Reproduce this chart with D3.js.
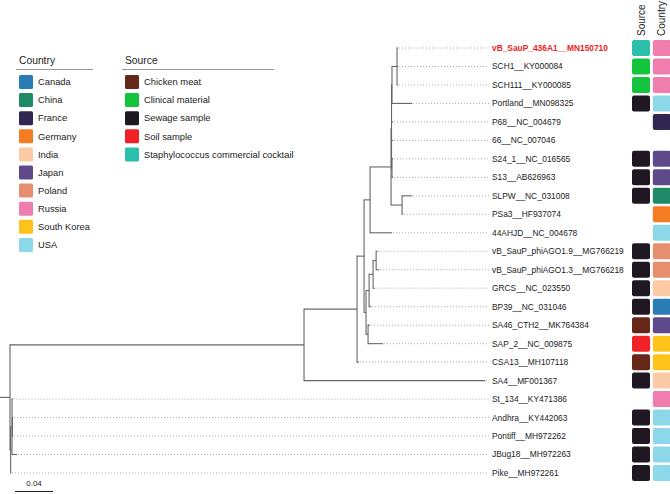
<!DOCTYPE html>
<html>
<head>
<meta charset="utf-8">
<script src="https://cdn.jsdelivr.net/npm/d3@7"></script>
<style>
  html, body { margin: 0; padding: 0; background: #fff; }
  svg { display: block; font-family: "Liberation Sans", Arial, Helvetica, sans-serif; }
</style>
</head>
<body>
<svg id="chart" width="670" height="494"></svg>
<script>
// ---- Tree data: [parent, child, branch length] (children listed in drawing order)
const edges = [
  ["root", "B", 0.3095], ["root", "L", 0.0007],
  ["B", "C", 0.0558], ["B", "SA4__MF001367", 0.1905],
  ["C", "D", 0.0074], ["C", "CSA13__MH107118", 0.0021],
  ["D", "E", 0.0063], ["D", "F", 0.0021],
  ["E", "K", 0.0221], ["E", "44AHJD__NC_004678", 0.0232],
  ["K", "K2", 0.0005], ["K", "H", 0.0116],
  ["K2", "Q", 0.0005], ["K2", "P68__NC_004679", 0.0016], ["K2", "66__NC_007046", 0.0016], ["K2", "K3", 0.0005],
  ["Q", "R", 0.0053], ["Q", "Portland__MN098325", 0.0211],
  ["R", "vB_SauP_436A1__MN150710", 0.001], ["R", "SCH1__KY000084", 0.001], ["R", "SCH111__KY000085", 0.001],
  ["K3", "S24_1__NC_016565", 0.001], ["K3", "S13__AB626963", 0.001],
  ["H", "SLPW__NC_031008", 0.0105], ["H", "PSa3__HF937074", 0.0011],
  ["F", "P3", 0.0032], ["F", "P4", 0.0021],
  ["P3", "P2", 0.0042], ["P3", "BP39__NC_031046", 0.0021],
  ["P2", "P1", 0.0032], ["P2", "GRCS__NC_023550", 0.0016],
  ["P1", "vB_SauP_phiAGO1.9__MG766219", 0.0016], ["P1", "vB_SauP_phiAGO1.3__MG766218", 0.0032],
  ["P4", "SA46_CTH2__MK764384", 0.0021], ["P4", "SAP_2__NC_009875", 0.0158],
  ["L", "S", 0.0014], ["L", "Pike__MH972261", 0.0003],
  ["S", "St_134__KY471386", 0.0005], ["S", "AP", 0.0005], ["S", "JBug18__MH972263", 0.0053],
  ["AP", "Andhra__KY442063", 0.0005], ["AP", "Pontiff__MH972262", 0.0005]
];
const rootEdgeLength = 0.0105;

// ---- Tip annotations (tip order top to bottom)
const tipLabels = [
  "vB_SauP_436A1__MN150710", "SCH1__KY000084", "SCH111__KY000085", "Portland__MN098325",
  "P68__NC_004679", "66__NC_007046", "S24_1__NC_016565", "S13__AB626963",
  "SLPW__NC_031008", "PSa3__HF937074", "44AHJD__NC_004678",
  "vB_SauP_phiAGO1.9__MG766219", "vB_SauP_phiAGO1.3__MG766218", "GRCS__NC_023550",
  "BP39__NC_031046", "SA46_CTH2__MK764384", "SAP_2__NC_009875", "CSA13__MH107118",
  "SA4__MF001367", "St_134__KY471386", "Andhra__KY442063", "Pontiff__MH972262",
  "JBug18__MH972263", "Pike__MH972261"
];
const tipSource = [
  "Staphylococcus commercial cocktail", "Clinical material", "Clinical material", "Sewage sample",
  null, null, "Sewage sample", "Sewage sample",
  "Sewage sample", null, null,
  "Sewage sample", "Sewage sample", "Sewage sample",
  "Sewage sample", "Chicken meat", "Soil sample", "Chicken meat",
  "Sewage sample", null, "Sewage sample", "Sewage sample",
  "Sewage sample", "Sewage sample"
];
const tipCountry = [
  "Russia", "Russia", "Russia", "USA",
  "France", null, "Japan", "Japan",
  "China", "Germany", "USA",
  "Poland", "Poland", "India",
  "Canada", "Japan", "South Korea", "South Korea",
  "India", "Russia", "USA", "USA",
  "USA", "USA"
];
const highlightTip = "vB_SauP_436A1__MN150710";

// ---- Legends
const countryNames = ["Canada", "China", "France", "Germany", "India", "Japan", "Poland", "Russia", "South Korea", "USA"];
const countryColors = ["#2a7db4", "#1f8a68", "#31264f", "#f47c22", "#fdcaa6", "#5e4a8a", "#e68f6e", "#ef7eae", "#fdc31a", "#8dd8e8"];
const sourceNames = ["Chicken meat", "Clinical material", "Sewage sample", "Soil sample", "Staphylococcus commercial cocktail"];
const sourceColors = ["#662718", "#13c43c", "#1f1822", "#f02127", "#2bbfac"];
const heatColumns = ["Source", "Country"];
const scaleBarValue = 0.04;

// ---- Build hierarchy
const childMap = {};
const lenMap = {};
edges.forEach(([p, c, l]) => { (childMap[p] = childMap[p] || []).push(c); lenMap[c] = l; });
function build(name) {
  const kids = childMap[name];
  const node = { name, length: lenMap[name] || 0 };
  if (kids) node.children = kids.map(build);
  return node;
}
const root = d3.hierarchy(build("root"));
root.eachBefore(d => { d.depthLen = d.parent ? d.parent.depthLen + d.data.length : 0; });

const x = d3.scaleLinear().domain([0, 0.5]).range([10, 485]);
const y = d3.scaleLinear().domain([0, tipLabels.length - 1]).range([48, 473]);

const tipIndex = {};
tipLabels.forEach((t, i) => tipIndex[t] = i);
root.eachAfter(d => {
  if (!d.children) d.yv = tipIndex[d.data.name];
  else d.yv = d3.mean(d.children, c => c.yv);
});

const svg = d3.select("#chart");
const treeColor = "#666";

// dotted leader lines
const labelX = 492;
const leaves = root.leaves();
svg.append("g").selectAll("line").data(leaves).join("line")
  .attr("x1", d => x(d.depthLen) + 1).attr("x2", labelX - 3)
  .attr("y1", d => y(d.yv)).attr("y2", d => y(d.yv))
  .attr("stroke", "#a0a0a0").attr("stroke-width", 0.9).attr("stroke-dasharray", "1,2");

const gTree = svg.append("g").attr("stroke", treeColor).attr("stroke-width", 1.1).attr("fill", "none");
// horizontal branches
gTree.selectAll("line.h").data(root.descendants().filter(d => d.parent)).join("line")
  .attr("class", "h")
  .attr("x1", d => x(d.parent.depthLen)).attr("x2", d => x(d.depthLen))
  .attr("y1", d => y(d.yv)).attr("y2", d => y(d.yv));
// vertical connectors
gTree.selectAll("line.v").data(root.descendants().filter(d => d.children)).join("line")
  .attr("class", "v")
  .attr("x1", d => x(d.depthLen)).attr("x2", d => x(d.depthLen))
  .attr("y1", d => y(d3.min(d.children, c => c.yv)) - 0.55)
  .attr("y2", d => y(d3.max(d.children, c => c.yv)) + 0.55);
// root edge
gTree.append("line")
  .attr("x1", x(-rootEdgeLength)).attr("x2", x(0))
  .attr("y1", y(root.yv)).attr("y2", y(root.yv));

// tip labels
svg.append("g").selectAll("text").data(leaves).join("text")
  .attr("x", labelX).attr("y", d => y(d.yv)).attr("dy", "0.35em")
  .attr("font-size", 8.4)
  .attr("fill", d => d.data.name === highlightTip ? "#ee1c25" : "#222")
  .attr("font-weight", d => d.data.name === highlightTip ? "bold" : "normal")
  .text(d => d.data.name);

// heatmap
const srcColor = d3.scaleOrdinal().domain(sourceNames).range(sourceColors);
const ctyColor = d3.scaleOrdinal().domain(countryNames).range(countryColors);
const colX = d3.scaleBand().domain(heatColumns).range([632, 672]).paddingInner(0.08).paddingOuter(0);
const cellH = 16;
const hm = svg.append("g");
tipLabels.forEach((t, i) => {
  if (tipSource[i]) hm.append("rect").attr("x", colX("Source")).attr("y", y(i) - cellH / 2)
    .attr("width", 18).attr("height", cellH).attr("rx", 2).attr("fill", srcColor(tipSource[i]));
  if (tipCountry[i]) hm.append("rect").attr("x", colX("Country")).attr("y", y(i) - cellH / 2)
    .attr("width", 18).attr("height", cellH).attr("rx", 2).attr("fill", ctyColor(tipCountry[i]));
});
heatColumns.forEach(k => {
  svg.append("text")
    .attr("transform", `translate(${colX(k) + 9 + 3.5},36) rotate(-90)`)
    .attr("font-size", 10).attr("fill", "#222").text(k);
});

// legends
function legend(gx, title, names, colors, lineW) {
  const g = svg.append("g").attr("transform", `translate(${gx},0)`);
  g.append("text").attr("x", 3).attr("y", 60).attr("dy", "0.35em").attr("font-size", 10.3).attr("fill", "#222").text(title);
  g.append("line").attr("x1", 0).attr("x2", lineW).attr("y1", 69.5).attr("y2", 69.5)
    .attr("stroke", "#999").attr("stroke-width", 1);
  const ly = d3.scaleLinear().domain([0, 1]).range([82, 100.1]);
  names.forEach((n, i) => {
    g.append("rect").attr("x", 3).attr("y", ly(i) - 7).attr("width", 14).attr("height", 14)
      .attr("rx", 1.5).attr("fill", colors[i]);
    g.append("text").attr("x", 22).attr("y", ly(i)).attr("dy", "0.35em")
      .attr("font-size", 9.35).attr("fill", "#222").text(n);
  });
}
legend(16, "Country", countryNames, countryColors, 77);
legend(122, "Source", sourceNames, sourceColors, 152);

// scale bar
const barLen = x(scaleBarValue) - x(0);
svg.append("line").attr("x1", 15).attr("x2", 15 + barLen).attr("y1", 491.5).attr("y2", 491.5)
  .attr("stroke", "#222").attr("stroke-width", 1);
svg.append("text").attr("x", 15 + barLen / 2).attr("y", 486).attr("text-anchor", "middle")
  .attr("font-size", 8).attr("fill", "#222").text(scaleBarValue.toString());
</script>
</body>
</html>
